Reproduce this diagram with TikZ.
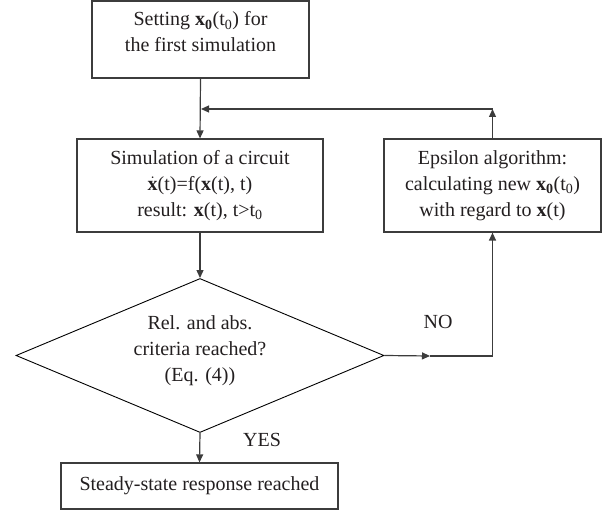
\documentclass[tikz,border=0pt]{standalone}
\usepackage{fontspec}
\setmainfont{Liberation Serif}
\usetikzlibrary{arrows.meta,shapes.geometric,positioning}
\definecolor{linegray}{HTML}{3C3C3C}
\definecolor{inkblack}{HTML}{231F20}
\tikzset{box/.style={draw=linegray, line width=1.2pt, fill=white, align=center, inner sep=0pt, text=inkblack}, decide/.style={diamond, aspect=2.39, draw=black, line width=0.9pt, align=center, inner sep=0pt, text=inkblack}, flow/.style={-{Triangle[length=8pt,width=7pt]}, line width=1.2pt, draw=linegray}, lab/.style={text=inkblack, align=center}}
\newcommand{\bx}{\textbf{x}}
\begin{document}
\begin{tikzpicture}[x=1pt,y=-1pt,font=\fontsize{20}{26}\selectfont]
\useasboundingbox (0,0) rectangle (616,513);
% boxes
\node[box, minimum width=217pt, minimum height=77pt] (start) at (200.5,39.5) {};
\node[lab] (starttxt) at (200.5,32) {Setting \bx\textsubscript{\textbf{0}}(t\textsubscript{0}) for\\the first simulation};
\node[box, minimum width=246pt, minimum height=93pt] (sim) at (200,185.5) {Simulation of a circuit\\$\dot{\hbox{\bx}}$(t)=f(\bx(t), t)\\result: \bx(t), t>t\textsubscript{0}};
\node[box, minimum width=217pt, minimum height=93pt] (eps) at (492.5,185.5) {Epsilon algorithm:\\calculating new \bx\textsubscript{\textbf{0}}(t\textsubscript{0})\\with regard to \bx(t)};
\node[decide, minimum width=368pt, minimum height=154pt] (crit) at (200,355.5) {Rel. and abs.\\criteria reached?\\(Eq. (4))\\[-12pt]};
\node[box, minimum width=277pt, minimum height=46pt] (stop) at (199.5,486) {Steady-state response reached};
\coordinate (back) at (201,109);
\coordinate (nomid) at (430,356);
% connectors
\draw[flow] (start.south) -- (sim.north);
\draw[flow] (sim.south) -- (crit.north);
\draw[flow] (crit.south) -- (stop.north);
\draw[flow] (crit.east) -- (nomid);
\draw[flow] (nomid) -- (nomid -| eps.south) -- (eps.south);
\draw[flow] (eps.north) -- (eps.north |- back);
\draw[flow] (eps.north |- back) -- (back);
\node[lab] (yes) at (262,440) {YES};
\node[lab] (no) at (438,322) {NO};
\end{tikzpicture}
\end{document}
